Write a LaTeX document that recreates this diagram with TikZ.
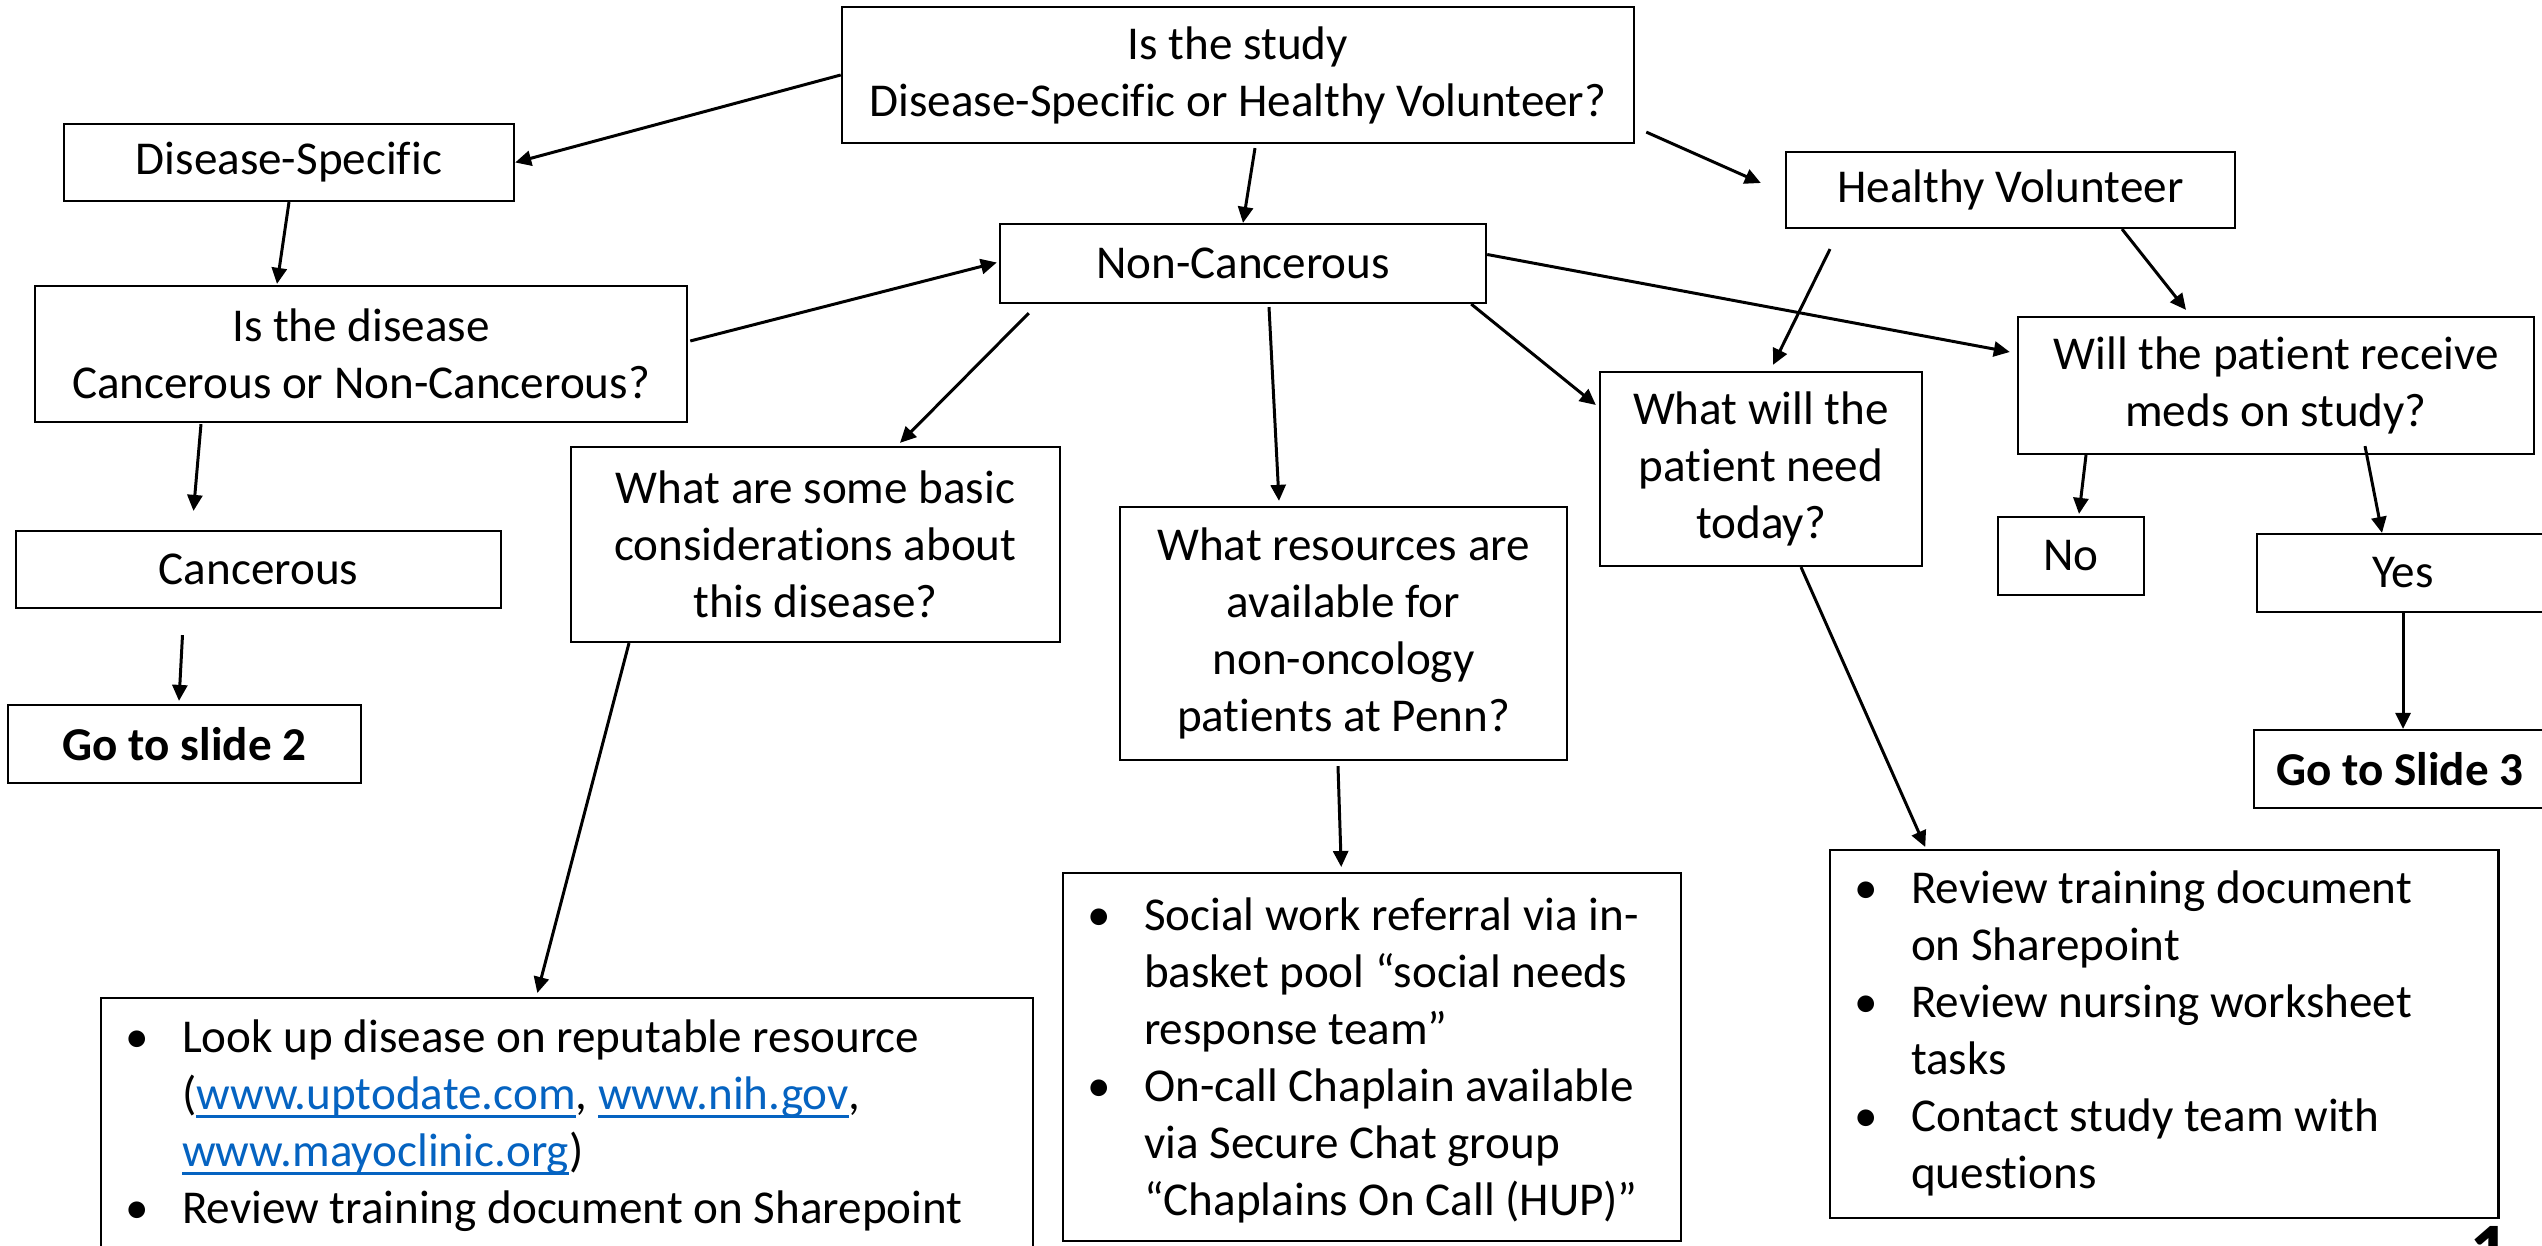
\documentclass[tikz,border=0pt]{standalone}
\usepackage{fontspec}
\setmainfont{Carlito}[Ligatures=NoCommon]
\usetikzlibrary{arrows.meta,calc}
\definecolor{linkblue}{HTML}{0563C1}
\newcommand\lnk[1]{\textcolor{linkblue}{\setbox0\hbox{#1}\rlap{\rule[-2.2pt]{\wd0}{0.7pt}}\box0}}
\newcommand\bul{\makebox[0.81cm][l]{\hspace{0.24cm}\textbullet}}
\newcommand\ind{\hspace*{0.81cm}}
\newcommand\fs{\fontsize{13.4pt}{16.2pt}\selectfont}
\tikzset{
  box/.style={draw, line width=0.6pt, inner sep=0pt, align=center, font=\fs},
  bbox/.style={draw, line width=0.6pt, inner sep=0pt, anchor=north west, font=\fs},
  arr/.style={line width=0.85pt, -{Triangle[length=0.16cm,width=0.15cm]}}
}
\begin{document}
\begin{tikzpicture}[x=0.01cm,y=-0.01cm]
\useasboundingbox (0,0) rectangle (2542,1246);
\fill[white] (0,0) rectangle (2542,1246);
\clip (0,0) rectangle (2542,1246);

% boxes
\node[box, minimum width=7.92cm, minimum height=1.36cm] (top) at (1238,75) {Is the study\\Disease-Specific or Healthy Volunteer?};
\node[box, minimum width=4.50cm, minimum height=0.77cm] (ds) at (289,162.5) {Disease-Specific};
\node[box, minimum width=4.49cm, minimum height=0.76cm] (hv) at (2010.5,190) {Healthy Volunteer};
\node[box, minimum width=4.86cm, minimum height=0.79cm] (nc) at (1243,263.5) {Non-Cancerous};
\node[box, minimum width=6.52cm, minimum height=1.36cm] (iq) at (361,354) {Is the disease\\Cancerous or Non-Cancerous?};
\node[box, minimum width=5.16cm, minimum height=1.37cm] (will) at (2276,385.5) {Will the patient receive\\meds on study?};
\node[box, minimum width=3.22cm, minimum height=1.94cm] (ww) at (1761,469) {What will the\\patient need\\today?};
\node[box, minimum width=4.89cm, minimum height=1.95cm] (basic) at (815.5,544.5) {What are some basic\\considerations about\\this disease?};
\node[box, minimum width=4.85cm, minimum height=0.77cm] (canc) at (258.5,569.5) {Cancerous};
\node[box, minimum width=1.46cm, minimum height=0.78cm] (no) at (2071,556) {No};
\node[box, minimum width=2.92cm, minimum height=0.78cm] (yes) at (2403,573) {Yes};
\node[box, minimum width=4.47cm, minimum height=2.53cm] (res) at (1343.5,633.5) {What resources are\\available for\\non-oncology\\patients at Penn?};
\node[box, minimum width=3.53cm, minimum height=0.78cm] (go2) at (184.5,744) {\bfseries Go to slide 2};
\node[box, minimum width=2.92cm, minimum height=0.78cm] (go3) at (2400,769) {\bfseries Go to Slide 3};

\node[bbox] (social) at (1062,872) {\parbox[b][3.68cm][t]{6.18cm}{\fs\raggedright\vspace*{0.18cm}\strut\bul Social work referral via in-\\ \ind basket pool “social needs\\ \ind response team”\\ \bul On-call Chaplain available\\ \ind via Secure Chat group\\ \ind “Chaplains On Call (HUP)”}};

\node[bbox] (review) at (1829,849) {\parbox[b][3.68cm][t]{6.68cm}{\fs\raggedright\vspace*{0.14cm}\strut\bul Review training document\\ \ind on Sharepoint\\ \bul Review nursing worksheet\\ \ind tasks\\ \bul Contact study team with\\ \ind questions}};

\node[bbox] (lookup) at (100,997) {\parbox[b][3.2cm][t]{9.31cm}{\fs\raggedright\vspace*{0.15cm}\strut\bul Look up disease on reputable resource\\ \ind (\lnk{www.uptodate.com}, \lnk{www.nih.gov},\\ \ind \lnk{www.mayoclinic.org})\\ \bul Review training document on Sharepoint}};

\node[anchor=base, inner sep=0pt, font=\fontsize{22.8pt}{27pt}\selectfont\bfseries] (pagenum) at (2490,1278) {1};

% connectors
\draw[arr] (top.west) -- (ds.east);
\draw[arr] ($(top.south)+(17,4)$) -- (nc.north);
\draw[arr] ($(top.south east)+(11,-12)$) -- ($(hv.west)+(-24,-7)$);
\draw[arr] (ds.south) -- ($(iq.north)+(-84,-1)$);
\draw[arr] ($(iq.east)+(2,-13)$) -- ($(nc.west)+(-2,-1)$);
\draw[arr] ($(iq.south)+(-160,1)$) -- ($(canc.north)+(-65,-19)$);
\draw[arr] ($(canc.south)+(-76,26)$) -- ($(go2.north)+(-5.5,-3)$);
\draw[arr] ($(nc.south west)+(30,9)$) -- ($(basic.north)+(84.5,-3)$);
\draw[arr] ($(nc.south)+(26,3)$) -- ($(res.north)+(-64.5,-5)$);
\draw[arr] ($(nc.south east)+(-16,0)$) -- ($(ww.west)+(-3,-64)$);
\draw[arr] ($(nc.east)+(0,-9)$) -- ($(will.west)+(-7,-33.5)$);
\draw[arr] ($(hv.south)+(-180.5,20)$) -- ($(ww.north)+(12,-6)$);
\draw[arr] ($(hv.south)+(111.5,0)$) -- ($(will.north)+(-90,-6)$);
\draw[arr] ($(will.south)+(-190,0)$) -- ($(no.north)+(8,-2)$);
\draw[arr] ($(will.south)+(89,-9)$) -- ($(yes.north)+(-21,0)$);
\draw[arr] (yes.south) -- (yes.south |- go3.north);
\draw[arr] ($(basic.south)+(-186.5,0)$) -- ($(lookup.north)+(-29.5,-4)$);
\draw[arr] ($(res.south)+(-5.5,5)$) -- ($(social.north)+(-31,-5)$);
\draw[arr] ($(ww.south)+(40,0)$) -- ($(review.north)+(-239,-2)$);
\end{tikzpicture}
\end{document}
